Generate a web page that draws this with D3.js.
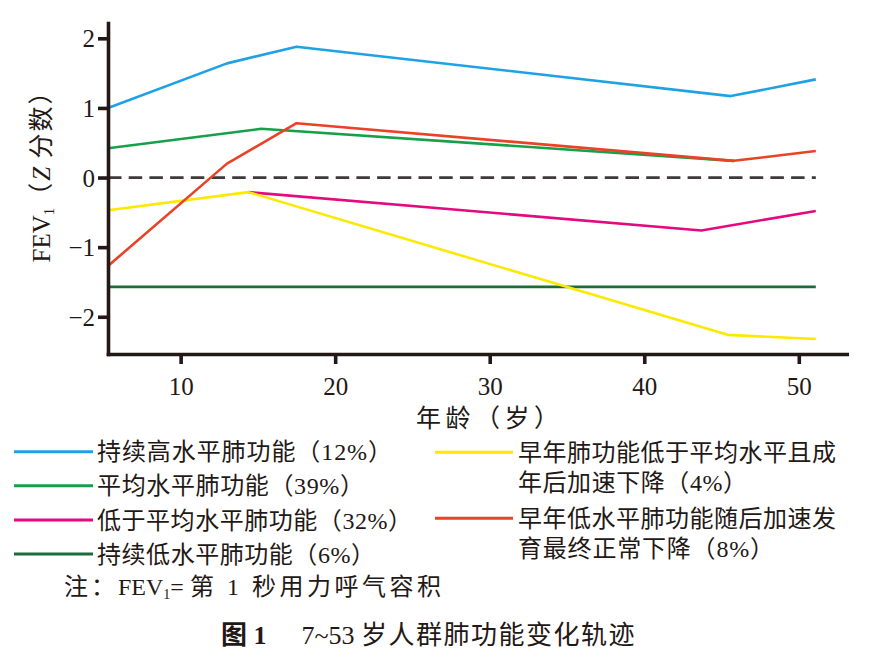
<!DOCTYPE html>
<html>
<head>
<meta charset="utf-8">
<script src="https://cdn.jsdelivr.net/npm/d3@7"></script>
<style>
  body { margin: 0; background: #fff; }
  svg { display: block; font-family: "Liberation Serif", "Noto Sans CJK SC", serif; }
</style>
</head>
<body>
<script>
  // tick values
  const xTicks = [10, 20, 30, 40, 50];
  const yTicks = [-2, -1, 0, 1, 2];

  // age (years) and FEV1 Z score for each trajectory
  const highAge = [5.3, 13, 17.5, 45.6, 51.1];
  const highZ = [1.0, 1.64, 1.88, 1.17, 1.41];

  const avgAge = [5.3, 15.2, 45.8];
  const avgZ = [0.42, 0.70, 0.24];

  const belowAge = [14.4, 43.7, 51.1];
  const belowZ = [-0.21, -0.76, -0.48];

  const lowAge = [5.3, 51.1];
  const lowZ = [-1.57, -1.57];

  const earlyLowDeclineAge = [5.3, 14.4, 45.4, 51.1];
  const earlyLowDeclineZ = [-0.47, -0.21, -2.26, -2.32];

  const catchUpAge = [5.3, 13, 17.5, 45.8, 51.1];
  const catchUpZ = [-1.27, 0.20, 0.78, 0.24, 0.38];

  const refAge = [5.3, 51.1];

  const names = [
    ['持续高水平肺功能（12%）'],
    ['平均水平肺功能（39%）'],
    ['低于平均水平肺功能（32%）'],
    ['持续低水平肺功能（6%）'],
    ['早年肺功能低于平均水平且成', '年后加速下降（4%）'],
    ['早年低水平肺功能随后加速发', '育最终正常下降（8%）']
  ];

  const ink = '#231815';
  const series = [
    { age: lowAge, z: lowZ, color: '#1c6b3b', name: names[3], col: 0, row: 3, len: [278] },
    { age: avgAge, z: avgZ, color: '#17a04a', name: names[1], col: 0, row: 1, len: [267] },
    { age: belowAge, z: belowZ, color: '#e5097f', name: names[2], col: 0, row: 2, len: [315] },
    { age: earlyLowDeclineAge, z: earlyLowDeclineZ, color: '#fbe900', name: names[4], col: 1, row: 0, len: [318, 229] },
    { age: highAge, z: highZ, color: '#1fa2e3', name: names[0], col: 0, row: 0, len: [295] },
    { age: catchUpAge, z: catchUpZ, color: '#e94227', name: names[5], col: 1, row: 1, len: [318, 256] }
  ];

  const svg = d3.select('body').append('svg')
    .attr('width', 869)
    .attr('height', 657);

  const x = d3.scaleLinear().domain([5.3, 53.1]).range([108, 846.7]);
  const y = d3.scaleLinear().domain([-2.535, 2.22]).range([354, 23]);

  // zero reference
  svg.append('line')
    .attr('x1', x(refAge[0])).attr('x2', x(refAge[1]))
    .attr('y1', y(0)).attr('y2', y(0))
    .attr('stroke', '#3e3a39')
    .attr('stroke-width', 2.8)
    .attr('stroke-dasharray', '13.5,7.2');

  const line = d3.line().x(d => x(d[0])).y(d => y(d[1]));

  svg.selectAll('.traj')
    .data(series)
    .enter()
    .append('path')
    .attr('class', 'traj')
    .attr('d', d => line(d3.zip(d.age, d.z)))
    .attr('fill', 'none')
    .attr('stroke', d => d.color)
    .attr('stroke-width', 2.6)
    .attr('stroke-linejoin', 'round');

  /**
   * AXES
   */
  const xAxis = d3.axisBottom(x).tickValues(xTicks).tickSize(10).tickSizeOuter(0);
  const yAxis = d3.axisLeft(y).tickValues(yTicks).tickSize(10).tickSizeOuter(0)
    .tickFormat(d => d < 0 ? '\u2212' + Math.abs(d) : d);

  const gx = svg.append('g')
    .attr('transform', `translate(0, ${y.range()[0]})`)
    .call(xAxis);
  gx.selectAll('.tick text').attr('y', 41).attr('dy', 0);

  const gy = svg.append('g')
    .attr('transform', `translate(${x.range()[0]}, 0)`)
    .call(yAxis);
  gy.selectAll('.tick text').attr('x', -13).attr('dy', '0.34em');

  gx.attr('font-family', '"Liberation Serif", serif').attr('font-size', 25);
  gy.attr('font-family', '"Liberation Serif", serif').attr('font-size', 25);

  svg.selectAll('.domain')
    .attr('stroke', ink)
    .attr('stroke-width', 3.6)
    .attr('stroke-linecap', 'square');
  svg.selectAll('.tick line').attr('stroke', ink).attr('stroke-width', 3.6);
  svg.selectAll('.tick text').attr('fill', ink);

  // axis titles
  const yt = svg.append('text')
    .attr('transform', 'translate(50, 170) rotate(-90)')
    .attr('text-anchor', 'middle')
    .attr('font-size', 25)
    .attr('fill', ink);
  yt.append('tspan').text('FEV');
  yt.append('tspan').attr('font-size', 15).attr('dy', 4).text('1');
  yt.append('tspan').attr('dy', -4).attr('letter-spacing', 2).text('（');
  yt.append('tspan').attr('font-style', 'italic').text('Z');
  yt.append('tspan').attr('letter-spacing', 2).text(' 分数）');

  svg.append('text')
    .attr('x', 416)
    .attr('y', 427)
    .attr('font-size', 25)
    .attr('textLength', 143)
    .attr('lengthAdjust', 'spacing')
    .attr('fill', ink)
    .text('年龄（岁）');

  /**
   * LEGEND
   */
  const legendRows = [[451.7, 485.7, 520, 554], [452.3, 518.3]];
  const legendX = [[14, 93, 97], [435, 513, 518]];

  const lg = svg.selectAll('.legend')
    .data(series)
    .enter()
    .append('g')
    .attr('class', 'legend');

  lg.append('line')
    .attr('x1', d => legendX[d.col][0])
    .attr('x2', d => legendX[d.col][1])
    .attr('y1', d => legendRows[d.col][d.row])
    .attr('y2', d => legendRows[d.col][d.row])
    .attr('stroke', d => d.color)
    .attr('stroke-width', 3);

  lg.each(function (d) {
    d.name.forEach((t, i) => {
      d3.select(this).append('text')
        .attr('x', legendX[d.col][2])
        .attr('y', legendRows[d.col][d.row] + i * 30 + 8.6)
        .attr('font-size', 24)
        .attr('textLength', d.len[i])
        .attr('lengthAdjust', 'spacing')
        .attr('fill', ink)
        .text(t);
    });
  });

  // note
  const note = svg.append('text')
    .attr('x', 64)
    .attr('y', 595)
    .attr('font-size', 24)
    .attr('fill', ink);
  note.append('tspan').attr('letter-spacing', 3).text('注：');
  note.append('tspan').text('FEV');
  note.append('tspan').attr('font-size', 14).attr('dy', 4).text('1');
  note.append('tspan').attr('dy', -4).text('= ');
  note.append('tspan').attr('letter-spacing', 3.5).text('第 1 秒用力呼气容积');

  // caption
  const cap = svg.append('text')
    .attr('x', 221)
    .attr('y', 644)
    .attr('font-size', 26)
    .attr('fill', ink);
  cap.append('tspan').attr('font-weight', 'bold').text('图 1');
  cap.append('tspan').attr('dx', 35).text('7~53 ');
  cap.append('tspan').attr('letter-spacing', 1.5).text('岁人群肺功能变化轨迹');
</script>
</body>
</html>
